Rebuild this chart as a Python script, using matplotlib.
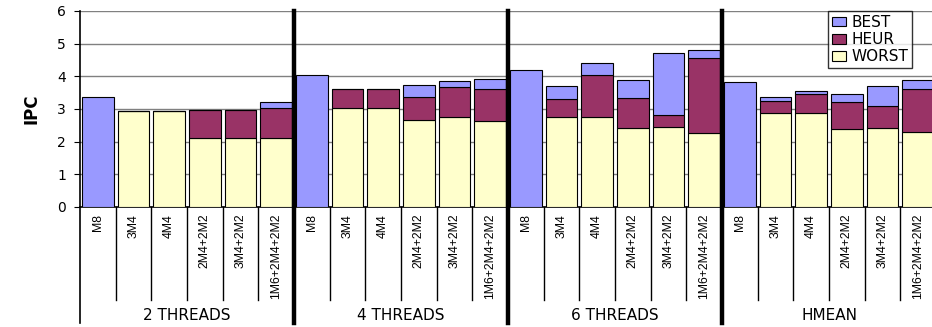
import numpy as np
import matplotlib.pyplot as plt
from matplotlib.patches import Patch

groups = ['2 THREADS', '4 THREADS', '6 THREADS', 'HMEAN']
configs = ['M8', '3M4', '4M4', '2M4+2M2', '3M4+2M2', '1M6+2M4+2M2']

# IPC levels per config (M8 has a single setup, so it is drawn as BEST only)
worst = [0, 2.93, 2.93, 2.10, 2.10, 2.10,
         0, 3.03, 3.03, 2.67, 2.77, 2.62,
         0, 2.77, 2.77, 2.43, 2.44, 2.26,
         0, 2.89, 2.89, 2.38, 2.41, 2.30]
heur = [0, 2.94, 2.94, 2.97, 2.97, 3.03,
        0, 3.61, 3.61, 3.38, 3.67, 3.61,
        0, 3.30, 4.04, 3.33, 2.81, 4.57,
        0, 3.23, 3.46, 3.20, 3.08, 3.62]
best = [3.38, 2.94, 2.94, 2.98, 2.98, 3.20,
        4.04, 3.62, 3.62, 3.72, 3.87, 3.93,
        4.20, 3.71, 4.40, 3.88, 4.72, 4.81,
        3.84, 3.37, 3.55, 3.47, 3.71, 3.88]

c_best = '#9999FF'
c_heur = '#993366'
c_worst = '#FFFFCC'

worst = np.array(worst)
heur = np.array(heur)
best = np.array(best)
x = np.arange(len(best))
labels = configs * len(groups)

fig = plt.figure(figsize=(9.32, 3.27), dpi=100)
ax = fig.add_axes([80 / 932, 120 / 327, 856 / 932, 196 / 327])

w = 0.89
ax.bar(x, worst, w, color=c_worst, edgecolor='black', linewidth=0.8, zorder=3)
ax.bar(x, heur - worst, w, bottom=worst, color=c_heur, edgecolor='black',
       linewidth=0.8, zorder=3)
ax.bar(x, best - heur, w, bottom=heur, color=c_best, edgecolor='black',
       linewidth=0.8, zorder=3)

ax.set_xlim(-0.5, len(x) - 0.5)
ax.set_ylim(0, 6)
ax.set_yticks(range(7))
ax.tick_params(axis='y', labelsize=10, length=4, pad=6)
ax.set_xticks([])
ax.yaxis.grid(True, color='#808080', linewidth=1.0, zorder=0)
for s in ['top', 'right']:
    ax.spines[s].set_visible(False)
ax.spines['left'].set_linewidth(1.2)
ax.spines['bottom'].set_linewidth(1.2)
ax.set_ylabel('IPC', fontsize=12, fontweight='bold', labelpad=12)

# category table under the axis
trans = ax.get_xaxis_transform()
for i in range(len(x)):
    ax.text(i, -0.035, labels[i], transform=trans, rotation=90, ha='center',
            va='top', fontsize=8.8, family='Liberation Sans')
    if i % 6 != 0:
        ax.plot([i - 0.5, i - 0.5], [0, -0.475], transform=trans,
                color='black', linewidth=1.0, clip_on=False)
ax.plot([-0.5, -0.5], [0, -0.59], transform=trans, color='black',
        linewidth=1.2, clip_on=False)
for g, name in enumerate(groups):
    ax.text(g * 6 + 2.5, -0.555, name, transform=trans, ha='center',
            va='center', fontsize=11)
    if g > 0:
        ax.plot([g * 6 - 0.5, g * 6 - 0.5], [1, -0.59], transform=trans,
                color='black', linewidth=3.2, clip_on=False, zorder=5)

handles = [Patch(facecolor=c_best, edgecolor='black', linewidth=0.8),
           Patch(facecolor=c_heur, edgecolor='black', linewidth=0.8),
           Patch(facecolor=c_worst, edgecolor='black', linewidth=0.8)]
leg = fig.legend(handles, ['BEST', 'HEUR', 'WORST'], loc='upper left',
                 bbox_to_anchor=(828 / 932, 1 - 11 / 327), fontsize=11,
                 frameon=True, fancybox=False, handlelength=0.9,
                 handleheight=0.6, handletextpad=0.4, labelspacing=0.15,
                 borderpad=0.25, borderaxespad=0)
leg.get_frame().set_edgecolor('black')
leg.get_frame().set_linewidth(1.0)

fig.savefig('out.png', dpi=100)
